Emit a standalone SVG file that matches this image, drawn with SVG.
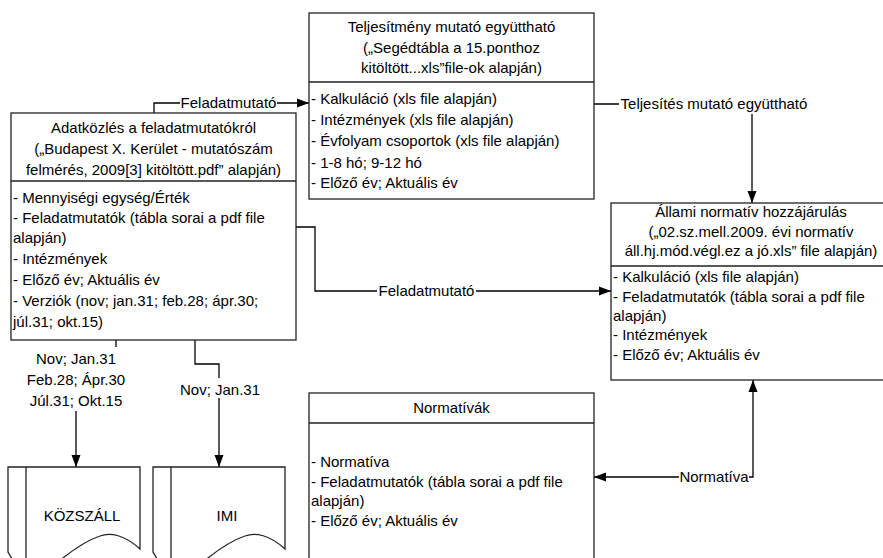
<svg xmlns="http://www.w3.org/2000/svg" width="883" height="558" viewBox="0 0 883 558">
<defs>
<style>
text{font-family:"Liberation Sans",Arial,sans-serif;font-size:15px;fill:#000}
.c{text-anchor:middle}
.box{fill:#fff;stroke:#222;stroke-width:1.3}
.ln{fill:none;stroke:#000;stroke-width:1.3}
.bg{fill:#fff;stroke:none}
</style>
<marker id="ah" markerUnits="userSpaceOnUse" markerWidth="12" markerHeight="10" refX="12" refY="5" orient="auto-start-reverse" viewBox="0 0 12 10">
<path d="M0,0.5 L12,5 L0,9.5 z" fill="#000"/>
</marker>
</defs>
<rect width="883" height="558" fill="#fff"/>

<g id="connectors">
<path class="ln" d="M154,113 V103 H309" marker-end="url(#ah)"/>
<rect class="bg" x="180" y="95" width="97" height="17"/>
<text class="c" x="228.5" y="108">Feladatmutató</text>

<path class="ln" d="M594,104 H752 V203" marker-end="url(#ah)"/>
<rect class="bg" x="619" y="96" width="190" height="18"/>
<text class="c" x="714" y="109">Teljesítés mutató együttható</text>

<path class="ln" d="M296,227 H315 V291 H611" marker-end="url(#ah)"/>
<rect class="bg" x="377" y="283" width="99" height="17"/>
<text class="c" x="426.5" y="296">Feladatmutató</text>

<path class="ln" d="M594,477 H753 V380" marker-start="url(#ah)" marker-end="url(#ah)"/>
<rect class="bg" x="679" y="469" width="70" height="17"/>
<text class="c" x="714" y="482">Normatíva</text>

<path class="ln" d="M116,340 V380 H76 V467" marker-end="url(#ah)"/>
<rect class="bg" x="25" y="347" width="102" height="64"/>
<text class="c" x="76" y="364">Nov; Jan.31</text>
<text class="c" x="76" y="385">Feb.28; Ápr.30</text>
<text class="c" x="76" y="406">Júl.31; Okt.15</text>

<path class="ln" d="M195,340 V364 H219 V467" marker-end="url(#ah)"/>
<rect class="bg" x="180" y="378" width="80" height="20"/>
<text class="c" x="220" y="395">Nov; Jan.31</text>
</g>

<g id="adatkozles">
<rect class="box" x="11" y="113" width="285" height="227"/>
<line class="box" x1="11" y1="181" x2="296" y2="181"/>
<text class="c" x="153.5" y="132.5">Adatközlés a feladatmutatókról</text>
<text class="c" x="153.5" y="154">(„Budapest X. Kerület - mutatószám</text>
<text class="c" x="153.5" y="175">felmérés, 2009[3] kitöltött.pdf” alapján)</text>
<text x="13" y="203">- Mennyiségi egység/Érték</text>
<text x="13" y="223">- Feladatmutatók (tábla sorai a pdf file</text>
<text x="13" y="243">alapján)</text>
<text x="13" y="264">- Intézmények</text>
<text x="13" y="285">- Előző év; Aktuális év</text>
<text x="13" y="306">- Verziók (nov; jan.31; feb.28; ápr.30;</text>
<text x="13" y="327">júl.31; okt.15)</text>
</g>

<g id="teljesitmeny">
<rect class="box" x="309" y="13" width="285" height="186"/>
<line class="box" x1="309" y1="82" x2="594" y2="82"/>
<text class="c" x="451.5" y="32">Teljesítmény mutató együttható</text>
<text class="c" x="451.5" y="53">(„Segédtábla a 15.ponthoz</text>
<text class="c" x="451.5" y="73">kitöltött...xls”file-ok alapján)</text>
<text x="311" y="104">- Kalkuláció (xls file alapján)</text>
<text x="311" y="125">- Intézmények (xls file alapján)</text>
<text x="311" y="146">- Évfolyam csoportok (xls file alapján)</text>
<text x="311" y="168">- 1-8 hó; 9-12 hó</text>
<text x="311" y="188">- Előző év; Aktuális év</text>
</g>

<g id="allami">
<rect class="box" x="611" y="203" width="280" height="177"/>
<line class="box" x1="611" y1="266" x2="891" y2="266"/>
<text class="c" x="751" y="217">Állami normatív hozzájárulás</text>
<text class="c" x="751" y="237">(„02.sz.mell.2009. évi normatív</text>
<text class="c" x="751" y="256">áll.hj.mód.végl.ez a jó.xls” file alapján)</text>
<text x="613" y="282">- Kalkuláció (xls file alapján)</text>
<text x="613" y="302">- Feladatmutatók (tábla sorai a pdf file</text>
<text x="613" y="321">alapján)</text>
<text x="613" y="340">- Intézmények</text>
<text x="613" y="360">- Előző év; Aktuális év</text>
</g>

<g id="normativak">
<rect class="box" x="309" y="393" width="285" height="180"/>
<line class="box" x1="309" y1="423" x2="594" y2="423"/>
<text class="c" x="451.5" y="413">Normatívák</text>
<text x="311" y="467">- Normatíva</text>
<text x="311" y="487">- Feladatmutatók (tábla sorai a pdf file</text>
<text x="311" y="506">alapján)</text>
<text x="311" y="526">- Előző év; Aktuális év</text>
</g>

<g id="kozszall">
<path class="box" d="M8,467 H140 V549 C125,535 110,532 100,536 C85,541 70,552 58,562 H14 L8,552 Z"/>
<line class="box" x1="26" y1="467" x2="26" y2="562"/>
<text class="c" x="82" y="521">KÖZSZÁLL</text>
</g>

<g id="imi">
<path class="box" d="M153,467 H285 V549 C270,535 255,532 245,536 C230,541 215,552 203,562 H159 L153,552 Z"/>
<line class="box" x1="171" y1="467" x2="171" y2="562"/>
<text class="c" x="227" y="521">IMI</text>
</g>
</svg>
